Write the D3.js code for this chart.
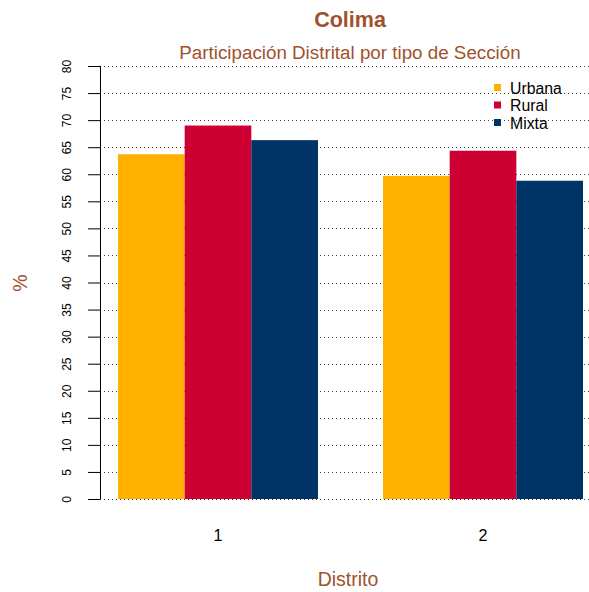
<!DOCTYPE html>
<html><head><meta charset="utf-8">
<script src="https://cdn.jsdelivr.net/npm/d3@7"></script>
<style>body{margin:0;background:#fff}svg{display:block;font-family:"Liberation Sans",Arial,sans-serif}</style>
</head><body>
<script>
const districts = ["1", "2"];
const seriesNames = ["Urbana", "Rural", "Mixta"];
const urbana = [63.7, 59.7];
const rural = [69.0, 64.35];
const mixta = [66.3, 58.8];
const colors = ["#FFB000", "#CC0033", "#003366"];
const yTicks = [0,5,10,15,20,25,30,35,40,45,50,55,60,65,70,75,80];

const W = 589, H = 592;
const svg = d3.select("body").append("svg").attr("width", W).attr("height", H);
const titleColor = "#A0522D";

const y = d3.scaleLinear().domain([0, 80]).range([499, 66]);
const xg = d3.scaleBand().domain(districts).range([118, 583]).paddingInner(2 - 465/265).paddingOuter(0);
const xs = d3.scaleBand().domain(seriesNames).range([0, xg.bandwidth()]);

// gridlines
svg.append("g").selectAll("line").data(yTicks).join("line")
  .attr("x1", 100).attr("x2", 589)
  .attr("y1", d => Math.round(y(d)) + 0.5).attr("y2", d => Math.round(y(d)) + 0.5)
  .attr("stroke", "#444").attr("stroke-width", 1).attr("stroke-dasharray", "1,3");

const vals = [urbana, rural, mixta];
const g = svg.append("g");
districts.forEach((d, i) => {
  seriesNames.forEach((s, j) => {
    g.append("rect")
      .attr("x", xg(d) + xs(s))
      .attr("width", xs.bandwidth())
      .attr("y", y(vals[j][i]))
      .attr("height", y(0) - y(vals[j][i]))
      .attr("fill", colors[j]);
  });
});

// y axis
const yAxis = d3.axisLeft(y).tickValues(yTicks).tickSize(12).tickPadding(6);
const ya = svg.append("g").attr("transform", "translate(100,0)").call(yAxis);
ya.select(".domain").attr("stroke", "#000").attr("d", `M0.5,${y(0)}V${y(80)}`);
ya.selectAll(".tick line").attr("stroke", "#000");
ya.selectAll(".tick text")
  .attr("font-size", 12).attr("fill", "#000")
  .attr("transform", "translate(-29,0) rotate(-90)")
  .attr("text-anchor", "middle").attr("x", 0).attr("y", 0).attr("dy", 0);

// x labels
svg.append("g").selectAll("text").data(districts).join("text")
  .attr("x", d => xg(d) + xg.bandwidth()/2).attr("y", 541)
  .attr("text-anchor", "middle").attr("font-size", 16).attr("fill", "#000")
  .text(d => d);

// titles
svg.append("text").attr("x", 350).attr("y", 27).attr("text-anchor", "middle")
  .attr("font-size", 21.5).attr("font-weight", "bold").attr("fill", titleColor).text("Colima");
svg.append("text").attr("x", 350).attr("y", 59).attr("text-anchor", "middle")
  .attr("font-size", 18.8).attr("fill", titleColor).text("Participación Distrital por tipo de Sección");
svg.append("text").attr("x", 348).attr("y", 586).attr("text-anchor", "middle")
  .attr("font-size", 19.5).attr("fill", titleColor).text("Distrito");
svg.append("text").attr("transform", "translate(27,283) rotate(-90)").attr("text-anchor", "middle")
  .attr("font-size", 19.5).attr("fill", titleColor).text("%");

// legend
const lg = svg.append("g");
seriesNames.forEach((s, j) => {
  const cy = 88 + j * 17.5;
  lg.append("rect").attr("x", 494).attr("y", cy - 4).attr("width", 7).attr("height", 7).attr("fill", colors[j]);
  lg.append("text").attr("x", 510).attr("y", cy + 5.5).attr("font-size", 15.8).attr("fill", "#000").text(s);
});
</script>
</body></html>
